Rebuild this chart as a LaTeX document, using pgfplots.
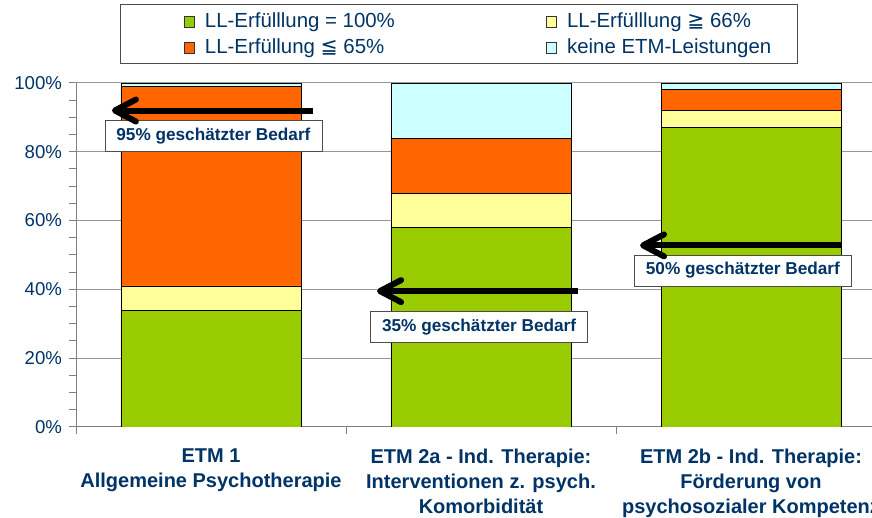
\documentclass[border=0pt]{standalone}
\usepackage{fontspec}
\setmainfont{Liberation Sans}
\newfontfamily\symfont{DejaVu Sans}
\usepackage{pgfplots}
\usepackage{pgfplotstable}
\pgfplotsset{compat=1.18}
\usetikzlibrary{arrows.meta}
\definecolor{cgreen}{RGB}{153,204,0}
\definecolor{cyellow}{RGB}{255,255,153}
\definecolor{corange}{RGB}{255,102,0}
\definecolor{ccyan}{RGB}{204,255,255}
\definecolor{navy}{RGB}{0,51,102}
\definecolor{gridgray}{RGB}{150,150,150}

\pgfplotstableread{
x   green yellow orange cyan
0.5 34    7      58     1
1.5 58    10     16     16
2.5 87    5      6      2
}\data

\tikzset{
  bedarf/.style={draw=black!70, fill=white, minimum width=108.5pt, minimum height=15.5pt, inner sep=0pt,
    font=\bfseries\fontsize{8.6}{10}\selectfont, text=navy},
  pfeil/.style={line width=3pt, -{Straight Barb[length=10.5pt,width=11pt,round]}},
}

\begin{document}
\begin{tikzpicture}
\useasboundingbox (0pt,0pt) rectangle (436pt,259pt);
\clip (0pt,0pt) rectangle (436pt,259pt);
\begin{axis}[
  scale only axis, width=405pt, height=172pt,
  at={(38pt,45.5pt)}, anchor=south west,
  ybar stacked, bar width=0.6667,
  xmin=0, xmax=3, ymin=0, ymax=100,
  axis lines=left, axis line style={-, draw=gray, line width=0.5pt},
  xtick={0,1,2,3}, xticklabels={,,,},
  extra x ticks={0.5,1.5,2.5},
  extra x tick labels={{ETM 1\\Allgemeine Psychotherapie},{ETM 2a - Ind. Therapie:\\Interventionen z. psych.\\Komorbidität},{ETM 2b - Ind. Therapie:\\Förderung von\\psychosozialer Kompetenz}},
  extra x tick style={major tick length=0pt},
  xticklabel style={align=center, font=\bfseries\fontsize{10}{12.5}\selectfont, text=navy, yshift=-7.5pt},
  ytick={0,20,...,100},
  yticklabel={\pgfmathprintnumber{\tick}\%},
  minor y tick num=3,
  ymajorgrids, major grid style={draw=gridgray, line width=0.5pt},
  tick style={draw=gray, line width=0.5pt},
  major tick length=3.5pt, minor tick length=3.5pt, tick align=outside,
  yticklabel style={font=\fontsize{9.3}{11}\selectfont, text=navy},
  /pgf/number format/assume math mode=true,
  legend columns=2, legend cell align=left,
  legend style={at={(axis description cs:0.4957,1.1395)}, anchor=center,
    draw=none, fill=none, inner sep=0pt, row sep=3pt,
    font=\fontsize{10.2}{12}\selectfont, text=navy,
    nodes={inner sep=0pt, text height=7.5pt, text depth=2.5pt},
    /tikz/every odd column/.append style={column sep=5pt},
    /tikz/every even column/.append style={column sep=75.5pt}},
  legend image code/.code={\draw[#1, draw=black!80, line width=0.4pt] (0pt,-2.6pt) rectangle (5.2pt,2.6pt);},
]
\addplot[fill=cgreen, draw=black, line width=0.4pt] table[x=x,y=green]{\data};
\addplot[fill=cyellow, draw=black, line width=0.4pt] table[x=x,y=yellow]{\data};
\addplot[fill=corange, draw=black, line width=0.4pt] table[x=x,y=orange]{\data};
\addplot[fill=ccyan, draw=black, line width=0.4pt] table[x=x,y=cyan]{\data};
\legend{LL-Erfülllung = 100\%, LL-Erfülllung {\symfont ≧} 66\%, LL-Erfüllung {\symfont ≦} 65\%, keine ETM-Leistungen}

\coordinate (b1) at (axis cs:0.509,84.5);
\coordinate (b2) at (axis cs:1.493,29.1);
\coordinate (b3) at (axis cs:2.470,45.5);
\coordinate (s1) at (axis cs:0.878,92);
\coordinate (e1) at (axis cs:0.133,92);
\coordinate (s2) at (axis cs:1.859,39.5);
\coordinate (e2) at (axis cs:1.115,39.5);
\coordinate (s3) at (axis cs:2.837,52.8);
\coordinate (e3) at (axis cs:2.089,52.8);
\end{axis}
\node[bedarf] at (b1) {95\% geschätzter Bedarf};
\node[bedarf] at (b2) {35\% geschätzter Bedarf};
\node[bedarf] at (b3) {50\% geschätzter Bedarf};
\draw[pfeil] (s1) -- (e1);
\draw[pfeil] (s2) -- (e2);
\draw[pfeil] (s3) -- (e3);
\draw[black!70, line width=0.5pt] (60pt,227pt) rectangle (398.5pt,256.5pt);
\end{tikzpicture}
\end{document}
